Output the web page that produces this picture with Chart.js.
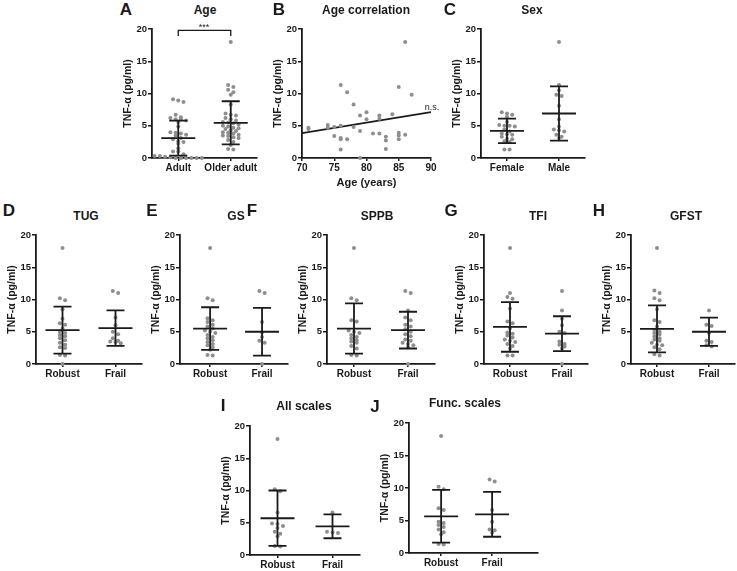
<!DOCTYPE html>
<html>
<head>
<meta charset="utf-8">
<script src="https://cdn.jsdelivr.net/npm/chart.js@4.4.1/dist/chart.umd.min.js"></script>
<style>
    html, body { margin: 0; padding: 0; background: #fff; overflow: hidden; }
    #fig { position: relative; width: 737px; height: 571px; font-family: 'Liberation Sans', Arial, sans-serif; color: #1a1a1a; }
    .box { position: absolute; }
    .lbl { position: absolute; font-weight: bold; white-space: nowrap; transform: translate(-50%, -50%); line-height: 1; }
    .letter { font-size: 17px; }
    .ttl { font-size: 12px; }
    .note { font-size: 9px; font-weight: normal; }
</style>
</head>
<body>
<div id="fig"></div>
<script>
// ---- data ----
const yTitle = 'TNF-α (pg/ml)';
const frailGroups = ['Robust', 'Frail'];

// A. Age
const ageGroups = ['Adult', 'Older adult'];
const ageAdult = [9.1, 8.9, 8.7, 6.7, 6.3, 6.2, 6.0, 6.0, 5.8, 5.6, 4.9, 4.0, 3.9, 3.8, 3.6, 3.5, 3.1, 2.9, 2.6, 2.5, 2.2, 1.5, 1.0, 1.0, 0.6, 0.3, 0.3, 0.2, 0.1, 0, 0, 0, 0, 0, 0];
const ageOlder = [18.0, 11.3, 11.0, 10.6, 10.2, 9.8, 8.3, 6.9, 6.7, 6.6, 6.2, 6.0, 5.8, 5.6, 5.5, 5.4, 5.2, 5.0, 4.9, 4.7, 4.6, 4.5, 4.3, 4.2, 4.0, 3.9, 3.8, 3.6, 3.5, 3.4, 3.2, 3.1, 2.8, 2.5, 2.0, 1.4, 1.3];
const ageMean = [3.08, 5.45];
const ageSd = [2.72, 3.35];
const bracketX = [0.5, 0.5, 1.5, 1.5];
const bracketY = [18.9, 19.8, 19.8, 18.9];

// B. Age correlation
const corrAge = [71, 71, 74, 74, 75, 75, 76, 76, 76, 76, 76, 77, 77, 78, 78, 79, 79, 79, 80, 80, 81, 82, 82, 82, 83, 83, 83, 84, 85, 85, 85, 85, 86, 86, 87];
const corrTnf = [4.7, 4.5, 5.1, 4.7, 3.4, 4.8, 11.3, 5.0, 3.1, 2.9, 1.3, 10.2, 2.9, 8.3, 4.8, 6.6, 4.2, 0, 7.1, 6.0, 3.8, 6.6, 6.1, 3.8, 3.3, 2.7, 1.4, 6.8, 11.0, 3.9, 3.5, 2.9, 18.0, 3.6, 9.8];
const fitAge = [70, 90];
const fitTnf = [3.85, 7.1];
const ageTicks = [70, 75, 80, 85, 90];

// C. Sex
const sexGroups = ['Female', 'Male'];
const sexFemale = [7.1, 6.9, 6.7, 6.4, 5.6, 5.1, 5.0, 5.0, 4.9, 4.4, 4.1, 3.8, 3.7, 3.6, 3.3, 3.0, 2.9, 2.6, 2.5, 1.3, 1.3];
const sexMale = [18.0, 11.3, 10.5, 9.8, 9.6, 8.1, 6.0, 4.9, 4.4, 4.3, 4.1, 3.6, 3.3, 3.1];
const sexMean = [4.2, 6.9];
const sexSd = [1.9, 4.2];

// D. TUG
const tugRobust = [18.0, 10.2, 9.9, 8.5, 7.0, 6.3, 6.1, 5.5, 5.0, 4.8, 4.5, 4.3, 4.0, 3.7, 3.3, 3.0, 2.6, 2.5, 1.4, 1.3, 0];
const tugFrail = [11.3, 11.0, 7.2, 6.0, 5.0, 4.6, 4.0, 3.6, 3.5, 3.4, 3.2];
const tugMean = [5.25, 5.55];
const tugSd = [3.65, 2.75];

// E. GS
const gsRobust = [18.0, 10.2, 9.9, 7.1, 6.8, 6.5, 6.1, 5.8, 5.5, 5.2, 5.0, 4.8, 4.5, 4.2, 4.0, 3.7, 3.4, 3.1, 2.9, 2.6, 2.2, 1.4, 1.3];
const gsFrail = [11.3, 11.0, 6.5, 4.9, 4.2, 3.6, 3.3, 0];
const gsMean = [5.5, 5.0];
const gsSd = [3.3, 3.7];

// F. SPPB
const sppbRobust = [18.0, 10.2, 9.9, 6.8, 6.6, 5.2, 5.0, 4.8, 4.5, 4.2, 4.0, 3.7, 3.5, 3.3, 2.8, 2.4, 1.4, 1.3];
const sppbFrail = [11.3, 11.0, 8.3, 7.2, 6.8, 6.1, 5.8, 5.4, 5.0, 4.6, 4.3, 3.8, 3.6, 3.3, 3.1, 2.9, 2.6, 0];
const sppbMean = [5.5, 5.25];
const sppbSd = [3.9, 2.85];

// G. TFI
const tfiRobust = [18.0, 11.0, 10.4, 10.1, 8.6, 6.6, 6.3, 5.5, 4.9, 4.7, 4.4, 4.1, 3.8, 3.6, 3.4, 3.1, 2.8, 2.4, 1.3, 1.3];
const tfiFrail = [11.3, 8.3, 7.0, 6.0, 5.0, 4.8, 3.5, 3.1, 3.0, 2.7, 2.4, 0];
const tfiMean = [5.75, 4.7];
const tfiSd = [3.85, 2.7];

// H. GFST
const gfstRobust = [18.0, 11.4, 11.0, 10.2, 9.9, 8.5, 6.8, 6.5, 5.8, 5.3, 5.0, 4.8, 4.6, 4.3, 4.0, 3.8, 3.6, 3.3, 3.0, 2.9, 2.6, 2.3, 1.5, 1.3];
const gfstFrail = [8.3, 6.1, 5.9, 4.8, 3.6, 3.4, 2.9, 2.7];
const gfstMean = [5.45, 5.0];
const gfstSd = [3.65, 2.2];

// I. All scales
const allRobust = [18.0, 10.2, 9.9, 6.6, 4.9, 4.8, 4.5, 4.2, 3.6, 3.3, 2.9, 1.4, 1.3];
const allFrail = [6.6, 3.6, 3.5, 3.4];
const allMean = [5.7, 4.45];
const allSd = [4.3, 1.85];

// J. Func. scales
const funcRobust = [18.0, 10.2, 9.8, 6.9, 6.6, 4.8, 4.6, 4.3, 4.0, 3.6, 3.2, 2.9, 1.4, 1.3];
const funcFrail = [11.3, 11.0, 6.6, 4.8, 3.6, 3.5, 3.1];
const funcMean = [5.65, 5.95];
const funcSd = [4.05, 3.45];

// ---- drawing ----
const fig = document.getElementById('fig');
const INK = '#1a1a1a';
const DOT = '#8e8e8e';
const L = 30, T = 10, R = 12;

function label(text, x, y, cls) {
    const d = document.createElement('div');
    d.className = 'lbl ' + cls;
    d.style.left = x + 'px';
    d.style.top = y + 'px';
    d.textContent = text;
    fig.appendChild(d);
}

// spread points of similar value side by side, like a column scatter
function swarm(values, center, step) {
    const sorted = [...values].sort((a, b) => b - a);
    const pts = [];
    let row = [];
    const flush = () => {
        row.forEach((v, i) => pts.push({ x: center + (i - (row.length - 1) / 2) * step, y: v }));
        row = [];
    };
    sorted.forEach(v => {
        if (row.length && row[0] - v > 0.45) flush();
        row.push(v);
    });
    flush();
    return pts;
}

const meanSdPlugin = {
    id: 'meanSd',
    afterDatasetsDraw(chart, args, opts) {
        if (!opts.means) return;
        const { ctx, scales: { x, y } } = chart;
        ctx.save();
        ctx.strokeStyle = INK;
        ctx.lineWidth = 1.8;
        opts.means.forEach((m, i) => {
            const cx = x.getPixelForValue(opts.centers[i]);
            const pm = y.getPixelForValue(m);
            const pu = y.getPixelForValue(m + opts.sds[i]);
            const pl = y.getPixelForValue(m - opts.sds[i]);
            ctx.beginPath();
            ctx.moveTo(cx - 17, pm); ctx.lineTo(cx + 17, pm);
            ctx.moveTo(cx, pu); ctx.lineTo(cx, pl);
            ctx.moveTo(cx - 9, pu); ctx.lineTo(cx + 9, pu);
            ctx.moveTo(cx - 9, pl); ctx.lineTo(cx + 9, pl);
            ctx.stroke();
        });
        ctx.restore();
    }
};
Chart.register(meanSdPlugin);

function makeChart(p, datasets, xOpts, meanSd) {
    const bottom = p.xTitle ? 32 : 22;
    const w = L + (p.xEnd - p.axis) + R;
    const h = T + (p.y0 - p.y20) + bottom;
    const box = document.createElement('div');
    box.className = 'box';
    box.style.left = (p.axis - L) + 'px';
    box.style.top = (p.y20 - T) + 'px';
    const cv = document.createElement('canvas');
    cv.width = w; cv.height = h;
    cv.style.width = w + 'px'; cv.style.height = h + 'px';
    box.appendChild(cv);
    fig.appendChild(box);

    const axisFont = { family: "'Liberation Sans', Arial, sans-serif", weight: 'bold' };
    new Chart(cv, {
        type: 'scatter',
        data: { datasets },
        options: {
            responsive: false,
            animation: false,
            events: [],
            layout: { padding: { top: T, right: R, left: 0, bottom: 0 } },
            plugins: {
                legend: { display: false },
                tooltip: { enabled: false },
                meanSd: meanSd || {}
            },
            scales: {
                x: Object.assign({
                    type: 'linear',
                    afterFit: s => { s.height = bottom; },
                    grid: { drawOnChartArea: false, tickLength: 3, color: INK, lineWidth: 1.5 },
                    border: { color: INK, width: 1.8 },
                    ticks: { color: INK, padding: 1, maxRotation: 0, autoSkip: false, font: { ...axisFont, size: 10 } }
                }, xOpts),
                y: {
                    min: 0, max: 20,
                    afterFit: s => { s.width = L; },
                    grid: { drawOnChartArea: false, tickLength: 4, color: INK, lineWidth: 1.5 },
                    border: { color: INK, width: 1.8 },
                    ticks: { stepSize: 5, color: INK, padding: 1, font: { ...axisFont, size: 9.5 } },
                    title: { display: true, text: yTitle, color: INK, padding: 0, font: { ...axisFont, size: 10.5 } }
                }
            }
        }
    });
}

function dots(values, center) {
    return {
        data: swarm(values, center, 0.1),
        pointRadius: 2, pointBackgroundColor: DOT, pointBorderWidth: 0, clip: false
    };
}

function groupAxis(p, groups) {
    return {
        min: p.xMin, max: p.xMax,
        afterBuildTicks: s => { s.ticks = [{ value: 0.5 }, { value: 1.5 }]; },
        ticks: {
            color: INK, padding: 1, maxRotation: 0, autoSkip: false,
            font: { family: "'Liberation Sans', Arial, sans-serif", weight: 'bold', size: 10 },
            callback: v => groups[Math.round(v - 0.5)]
        }
    };
}

function dotPanel(p, groups, a, b, means, sds, extra) {
    const ds = [dots(a, 0.5), dots(b, 1.5)].concat(extra || []);
    makeChart(p, ds, groupAxis(p, groups), { means, sds, centers: [0.5, 1.5] });
    label(p.letter, p.lx, p.ly, 'letter');
    label(p.title, p.tx, p.ty, 'ttl');
}

// panel geometry (pixels)
const row1 = { y20: 29, y0: 158, ly: 9, ty: 9.5 };
const row2 = { y20: 235, y0: 364, ly: 210, ty: 215.5 };

// A
dotPanel(Object.assign({ axis: 152, xEnd: 257, xMin: 0, xMax: 2, letter: 'A', lx: 126, title: 'Age', tx: 205 }, row1),
    ageGroups, ageAdult, ageOlder, ageMean, ageSd,
    [{
        type: 'line',
        data: bracketX.map((x, i) => ({ x, y: bracketY[i] })),
        borderColor: INK, borderWidth: 1.3, pointRadius: 0, clip: false
    }]);
label('***', 204, 27, 'note');

// B
(function () {
    const p = Object.assign({ axis: 302, xEnd: 431, xTitle: true }, row1);
    makeChart(p, [
        {
            data: corrAge.map((a, i) => ({ x: a, y: corrTnf[i] })),
            pointRadius: 2, pointBackgroundColor: DOT, pointBorderWidth: 0, clip: false
        },
        {
            type: 'line',
            data: fitAge.map((a, i) => ({ x: a, y: fitTnf[i] })),
            borderColor: INK, borderWidth: 1.8, pointRadius: 0
        }
    ], {
        min: 70, max: 90,
        afterBuildTicks: s => { s.ticks = ageTicks.map(v => ({ value: v })); },
        title: { display: true, text: 'Age (years)', color: INK, padding: 0,
            font: { family: "'Liberation Sans', Arial, sans-serif", weight: 'bold', size: 11 } }
    });
    label('B', 279, 9, 'letter');
    label('Age correlation', 366, 9.5, 'ttl');
    label('n.s.', 432, 107, 'note');
})();

// C
dotPanel(Object.assign({ axis: 481, xEnd: 585, xMin: 0, xMax: 2, letter: 'C', lx: 450, title: 'Sex', tx: 532 }, row1),
    sexGroups, sexFemale, sexMale, sexMean, sexSd);

// D - H
dotPanel(Object.assign({ axis: 36, xEnd: 142, xMin: 0, xMax: 2, letter: 'D', lx: 9, title: 'TUG', tx: 86 }, row2),
    frailGroups, tugRobust, tugFrail, tugMean, tugSd);
dotPanel(Object.assign({ axis: 180, xEnd: 288, xMin: -0.08, xMax: 2, letter: 'E', lx: 152, title: 'GS', tx: 236 }, row2),
    frailGroups, gsRobust, gsFrail, gsMean, gsSd);
dotPanel(Object.assign({ axis: 327, xEnd: 435, xMin: 0, xMax: 2, letter: 'F', lx: 252, title: 'SPPB', tx: 377 }, row2),
    frailGroups, sppbRobust, sppbFrail, sppbMean, sppbSd);
dotPanel(Object.assign({ axis: 484, xEnd: 588, xMin: 0, xMax: 2, letter: 'G', lx: 451, title: 'TFI', tx: 538 }, row2),
    frailGroups, tfiRobust, tfiFrail, tfiMean, tfiSd);
dotPanel(Object.assign({ axis: 631, xEnd: 735, xMin: 0, xMax: 2, letter: 'H', lx: 599, title: 'GFST', tx: 686 }, row2),
    frailGroups, gfstRobust, gfstFrail, gfstMean, gfstSd);

// I, J
dotPanel({ axis: 250, xEnd: 360, xMin: 0, xMax: 2, y20: 426, y0: 555, letter: 'I', lx: 223, ly: 405, title: 'All scales', tx: 304, ty: 406 },
    frailGroups, allRobust, allFrail, allMean, allSd);
dotPanel({ axis: 409, xEnd: 538, xMin: -0.13, xMax: 2.4, y20: 423, y0: 553, letter: 'J', lx: 375, ly: 406, title: 'Func. scales', tx: 465, ty: 403 },
    frailGroups, funcRobust, funcFrail, funcMean, funcSd);
</script>
</body>
</html>
